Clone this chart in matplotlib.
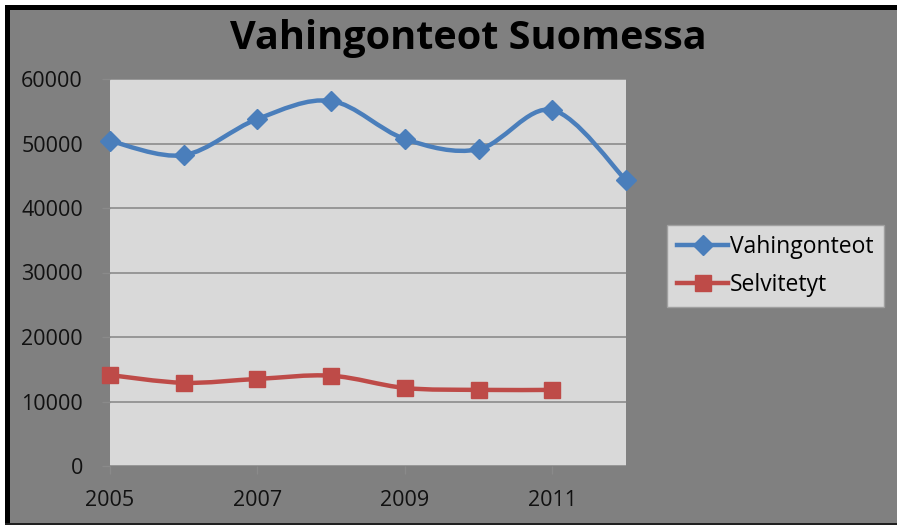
import numpy as np
import matplotlib
matplotlib.use("Agg")
import matplotlib.pyplot as plt
from matplotlib.patches import Rectangle
from matplotlib.path import Path
from matplotlib.patches import PathPatch

years = [2005, 2006, 2007, 2008, 2009, 2010, 2011, 2012]
vahingonteot = [50400, 48200, 53800, 56600, 50700, 49100, 55200, 44300]
selvitetyt_years = [2005, 2006, 2007, 2008, 2009, 2010, 2011]
selvitetyt = [14100, 12900, 13500, 14000, 12100, 11800, 11800]
xtick_labels = ["2005", "2007", "2009", "2011"]
title = "Vahingonteot Suomessa"
series_names = ["Vahingonteot", "Selvitetyt"]

BLUE = "#4a7ebb"
RED = "#be4b48"
BG = "#808080"
PLOT_BG = "#d9d9d9"

W, H = 897, 525
fig = plt.figure(figsize=(W / 100, H / 100), dpi=100, facecolor=BG)
# white outer margin (top, left), black frame strips (top, left, bottom)
for (x0, y0, w, h, c) in [
    (0, H - 5, W, 5, "white"),
    (0, 0, 5, H, "white"),
    (5, H - 10, W - 5, 5, "black"),
    (5, 0, 5, H - 5, "black"),
    (5, 0, W - 5, 2, "#202020"),
]:
    fig.patches.append(Rectangle((x0 / W, y0 / H), w / W, h / H, transform=fig.transFigure,
                                 facecolor=c, edgecolor="none", zorder=-2))

ax = fig.add_axes([110 / W, (H - 466) / H, 516 / W, 387 / H])
ax.set_facecolor(PLOT_BG)
for s in ax.spines.values():
    s.set_visible(False)


def smooth_path(xs, ys):
    xs = np.asarray(xs, float)
    ys = np.asarray(ys, float)
    n = len(xs)
    verts = [(xs[0], ys[0])]
    codes = [Path.MOVETO]
    for i in range(n - 1):
        i0 = max(i - 1, 0)
        i3 = min(i + 2, n - 1)
        c1 = (xs[i] + (xs[i + 1] - xs[i0]) / 6, ys[i] + (ys[i + 1] - ys[i0]) / 6)
        c2 = (xs[i + 1] - (xs[i3] - xs[i]) / 6, ys[i + 1] - (ys[i3] - ys[i]) / 6)
        verts += [c1, c2, (xs[i + 1], ys[i + 1])]
        codes += [Path.CURVE4] * 3
    return Path(verts, codes)


for xs, ys, col in [(years, vahingonteot, BLUE), (selvitetyt_years, selvitetyt, RED)]:
    pp = PathPatch(smooth_path(xs, ys), facecolor="none", edgecolor=col, lw=3.2,
                   capstyle="round", joinstyle="round", zorder=3, clip_on=False)
    ax.add_patch(pp)

ax.plot(years, vahingonteot, linestyle="none", marker="D", ms=10, color=BLUE,
        zorder=4, clip_on=False)
ax.plot(selvitetyt_years, selvitetyt, linestyle="none", marker="s", ms=11, color=RED,
        zorder=4, clip_on=False)

ax.set_xlim(2005, 2012)
ax.set_ylim(0, 60000)
ax.set_yticks(range(0, 60001, 10000))
ax.set_xticks([2005, 2007, 2009, 2011])
ax.set_xticklabels(xtick_labels)
ax.yaxis.grid(True, color="#8c8c8c", lw=1.2)
ax.set_axisbelow(True)
font = "Open Sans"
ax.tick_params(axis="both", colors="#8a8a8a", labelcolor="#111111", length=6, width=1,
               labelsize=15.5)
ax.tick_params(axis="y", pad=13.5)
ax.tick_params(axis="x", pad=11)
for lab in ax.get_xticklabels() + ax.get_yticklabels():
    lab.set_fontfamily(font)

fig.text(468 / W, 1 - 38 / H, title, ha="center", va="center", fontsize=28.5,
         fontweight="bold", family="Open Sans", color="black")

h1, = ax.plot([], [], color=BLUE, lw=3.2, marker="D", ms=10)
h2, = ax.plot([], [], color=RED, lw=3.2, marker="s", ms=11)
leg = fig.legend([h1, h2], series_names, loc="upper left",
                 bbox_to_anchor=(667 / W, 1 - 225 / H), borderaxespad=0,
                 frameon=True, fancybox=False,
                 handlelength=2.2, handletextpad=0.1, borderpad=0.45, labelspacing=0.6,
                 prop={"family": font, "size": 16.5})
fr = leg.get_frame()
fr.set_facecolor(PLOT_BG)
fr.set_edgecolor("#a0a0a0")
fr.set_alpha(1)

fig.savefig("out.png", dpi=100, facecolor=BG)
